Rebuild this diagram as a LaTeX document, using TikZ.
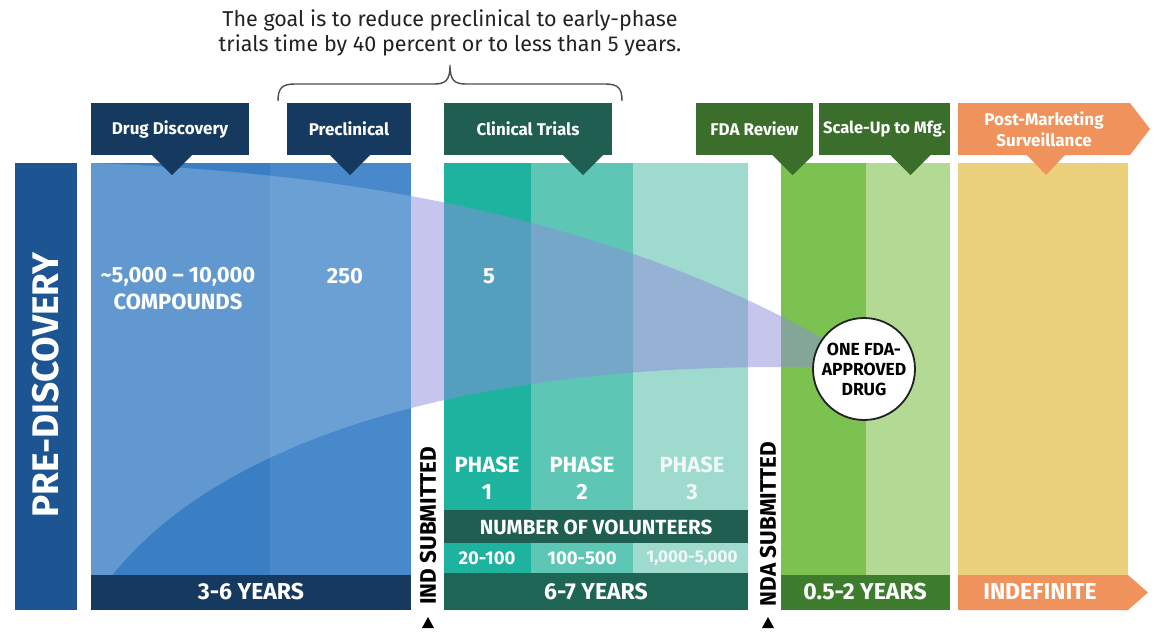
\documentclass[tikz,border=0pt]{standalone}
\usepackage{fontspec}
\setmainfont{Fira Sans}
\usetikzlibrary{calc}
\definecolor{navy}{HTML}{163A5F}
\definecolor{prebar}{HTML}{1C5592}
\definecolor{blueA}{HTML}{3A7FC4}
\definecolor{blueB}{HTML}{4789CB}
\definecolor{teal}{HTML}{1F5E50}
\definecolor{tealbar}{HTML}{1F6556}
\definecolor{phA}{HTML}{1DB39F}
\definecolor{phB}{HTML}{5EC6B5}
\definecolor{phC}{HTML}{9FDACE}
\definecolor{dgreen}{HTML}{3B6E2A}
\definecolor{gbar}{HTML}{3F7D2E}
\definecolor{grA}{HTML}{7CC250}
\definecolor{grB}{HTML}{B2DA94}
\definecolor{orng}{HTML}{F0925C}
\definecolor{yel}{HTML}{ECD17C}
\definecolor{lav}{HTML}{8C8CDC}
\definecolor{txt}{HTML}{222222}
\tikzset{
  hdr/.style={text=white, font=\fontsize{17}{20}\selectfont\bfseries, align=center, inner sep=0pt},
  big/.style={text=white, font=\fontsize{22}{27}\selectfont\bfseries, align=center, inner sep=0pt},
  bar/.style={text=white, font=\fontsize{23}{26}\selectfont\bfseries, inner sep=0pt},
  vol/.style={text=white, font=\fontsize{18.5}{20}\selectfont\bfseries, inner sep=0pt},
  sub/.style={text=black, font=\fontsize{22.5}{24}\selectfont\bfseries, rotate=90, inner sep=0pt}
}
\newcommand{\funnelpath}{(91,163) .. controls (420,175) and (650,240) .. (835,345) -- (835,368) .. controls (500,358) and (200,430) .. (91,605) -- cycle}
\begin{document}
\begin{tikzpicture}[x=1pt,y=-1pt]
\useasboundingbox (0,0) rectangle (1156,632);
\fill[white] (0,0) rectangle (1156,632);

% top text and brace
\node[text=txt, font=\fontsize{21.5}{25}\selectfont, align=center, inner sep=0pt] (goal) at (450,33)
  {The goal is to reduce preclinical to early-phase\\trials time by 40 percent or to less than 5 years.};
\coordinate (bl) at (278,101);
\coordinate (br) at (622,101);
\coordinate (bt) at (450,65);
\draw[txt!80, line width=1.4pt] (bl) .. controls (278,88) and (282,84) .. (295,84) -- (434,84)
  .. controls (446,84) and (450,80) .. (bt) .. controls (450,80) and (454,84) .. (466,84)
  -- (605,84) .. controls (618,84) and (622,88) .. (br);

% columns
\fill[prebar] (15,163) rectangle (77,610);
\fill[blueA] (91,163) rectangle (270,610);
\fill[blueB] (270,163) rectangle (411,610);
\fill[phA] (444,163) rectangle (531,573);
\fill[phB] (531,163) rectangle (633,573);
\fill[phC] (633,163) rectangle (748,573);
\fill[grA] (781,163) rectangle (866,610);
\fill[grB] (866,163) rectangle (950,610);
\fill[yel] (958,163) rectangle (1128,610);

% funnel
\begin{scope}
  \clip (91,0) rectangle (411,632);
  \fill[white, opacity=0.2] \funnelpath;
\end{scope}
\begin{scope}
  \clip (411,0) rectangle (900,632);
  \fill[lav, opacity=0.5] \funnelpath;
\end{scope}

% bottom bars
\fill[navy] (91,575) rectangle (411,610);
\fill[teal] (444,510) rectangle (748,543);
\fill[tealbar] (444,573) rectangle (748,610);
\fill[gbar] (781,575) rectangle (950,610);
\fill[orng] (958,575) -- (1128,575) -- (1148,592.5) -- (1128,610) -- (958,610) -- cycle;

% header boxes
\node[hdr, fill=navy, minimum width=158pt, minimum height=52pt] (dd) at (170,129) {Drug Discovery};
\fill[navy] ($(dd.south)+(-18,0)$) -- ($(dd.south)+(22,0)$) -- ($(dd.south)+(2,20)$) -- cycle;
\node[hdr, fill=navy, minimum width=124pt, minimum height=52pt] (pc) at (349,129) {Preclinical};
\fill[navy] ($(pc.south)+(-19,0)$) -- ($(pc.south)+(21,0)$) -- ($(pc.south)+(1,20)$) -- cycle;
\node[hdr, fill=teal, minimum width=168pt, minimum height=52pt] (ct) at (528,129) {Clinical Trials};
\fill[teal] ($(ct.south)+(35,0)$) -- ($(ct.south)+(75,0)$) -- ($(ct.south)+(55,20)$) -- cycle;
\node[hdr, fill=dgreen, minimum width=117pt, minimum height=52pt] (fr) at (754.5,129) {FDA Review};
\fill[dgreen] ($(fr.south)+(18,0)$) -- ($(fr.south)+(58.5,0)$) -- ($(fr.south)+(38,20)$) -- cycle;
\node[hdr, fill=dgreen, minimum width=131pt, minimum height=52pt, font=\fontsize{16.5}{20}\selectfont\bfseries] (su) at (884.5,129) {Scale-Up to Mfg.};
\fill[dgreen] ($(su.south)+(6,0)$) -- ($(su.south)+(46,0)$) -- ($(su.south)+(26,20)$) -- cycle;
\fill[orng] (958,103) -- (1130,103) -- (1150,129) -- (1130,155) -- (958,155) -- cycle;
\fill[orng] (1026,154) -- (1066,154) -- (1046,175) -- cycle;
\node[hdr, font=\fontsize{17}{21}\selectfont\bfseries] (pm) at (1044,129) {Post-Marketing\\Surveillance};

% column texts
\node[text=white, font=\fontsize{37}{40}\selectfont\bfseries, rotate=90, inner sep=0pt] (pd) at (46,385) {PRE-DISCOVERY};
\node[big] (cmp) at (178,289) {\textasciitilde5,000 – 10,000\\COMPOUNDS};
\node[big] (n250) at (345,276) {250};
\node[big] (n5) at (489,276) {5};
\node[big] (p1) at (487,478) {PHASE\\1};
\node[big] (p2) at (582,478) {PHASE\\2};
\node[big, text opacity=0.85] (p3) at (692,478) {PHASE\\3};
\node[vol, font=\fontsize{20.5}{22}\selectfont\bfseries] (nv) at (596,527) {NUMBER OF VOLUNTEERS};
\node[vol] (v1) at (487,558) {20-100};
\node[vol] (v2) at (582,558) {100-500};
\node[vol, text opacity=0.85, font=\fontsize{17}{20}\selectfont\bfseries] (v3) at (692,558) {1,000-5,000};
\node[bar] (y1) at (251,592) {3-6 YEARS};
\node[bar] (y2) at (596,592) {6-7 YEARS};
\node[bar] (y3) at (865,592) {0.5-2 YEARS};
\node[bar] (y4) at (1040,592) {INDEFINITE};

% submitted markers
\node[sub] (ind) at (428,526) {IND SUBMITTED};
\node[sub] (nda) at (768,524) {NDA SUBMITTED};
\fill[black] (422,628) -- (434,628) -- (428,617) -- cycle;
\fill[black] (762,628) -- (774,628) -- (768,617) -- cycle;

% approved drug circle
\node[circle, draw=txt, line width=1.8pt, fill=white, minimum size=102pt, inner sep=0pt,
  text=black, font=\fontsize{17.5}{20}\selectfont\bfseries, align=center] (drug) at (864,369) {ONE FDA-\\APPROVED\\DRUG};
\end{tikzpicture}
\end{document}
